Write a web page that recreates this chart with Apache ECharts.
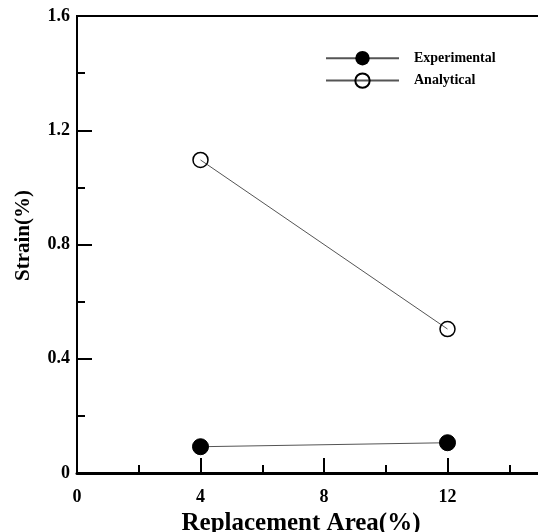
<!DOCTYPE html>
<html>
<head>
<meta charset="utf-8">
<script src="https://cdn.jsdelivr.net/npm/echarts@6/dist/echarts.min.js"></script>
<style>
  html, body { margin: 0; padding: 0; background: #fff; }
  #chart { width: 538px; height: 532px; }
</style>
</head>
<body>
<div id="chart"></div>
<script>
// Strain versus replacement area
const replacementArea = [4, 12];
const experimentalStrain = [0.092, 0.106];
const analyticalStrain = [1.096, 0.504];
const seriesNames = ['Experimental', 'Analytical'];

const font = '"Liberation Serif", "Times New Roman", serif';

const chart = echarts.init(document.getElementById('chart'));

chart.setOption({
  backgroundColor: '#fff',
  animation: false,
  grid: {
    left: 77,
    top: 16,
    width: 494,
    bottom: 59,
    outerBoundsMode: 'none',
    containLabel: false,
    show: true,
    borderColor: '#000',
    borderWidth: 2,
    backgroundColor: 'transparent'
  },
  legend: {
    data: seriesNames,
    orient: 'vertical',
    left: 320,
    top: 46,
    itemWidth: 73,
    itemHeight: 18,
    itemGap: 7,
    textStyle: { fontFamily: font, fontWeight: 'bold', fontSize: 14, color: '#000', padding: [0, 0, 0, 10] }
  },
  xAxis: {
    type: 'value',
    min: 0,
    max: 16,
    interval: 4,
    name: 'Replacement Area(%)',
    nameLocation: 'middle',
    nameGap: 31,
    nameTextStyle: { fontFamily: font, fontWeight: 'bold', fontSize: 25, color: '#000', padding: [0, 46, 0, 0] },
    axisLine: { show: true, lineStyle: { color: '#000', width: 3 } },
    axisTick: { show: true, inside: true, length: 15, lineStyle: { color: '#000', width: 2 } },
    minorTick: { show: true, splitNumber: 2, length: 8, lineStyle: { color: '#000', width: 2 } },
    axisLabel: { fontFamily: font, fontWeight: 'bold', fontSize: 18, color: '#000', margin: 15 },
    splitLine: { show: false }
  },
  yAxis: {
    type: 'value',
    min: 0,
    max: 1.6,
    interval: 0.4,
    name: 'Strain(%)',
    nameLocation: 'middle',
    nameGap: 43,
    nameTextStyle: { fontFamily: font, fontWeight: 'bold', fontSize: 21, color: '#000', padding: [0, 0, 0, 18] },
    axisLine: { show: true, lineStyle: { color: '#000', width: 2 } },
    axisTick: { show: true, inside: true, length: 15, lineStyle: { color: '#000', width: 2 } },
    minorTick: { show: true, splitNumber: 2, length: 8, lineStyle: { color: '#000', width: 2 } },
    axisLabel: {
      fontFamily: font, fontWeight: 'bold', fontSize: 18, color: '#000', margin: 7,
      formatter: v => (v === 0 ? '0' : v.toFixed(1))
    },
    splitLine: { show: false }
  },
  series: [
    {
      name: seriesNames[0],
      type: 'line',
      data: replacementArea.map((x, i) => [x, experimentalStrain[i]]),
      symbol: 'circle',
      symbolSize: 16,
      itemStyle: { color: '#000', borderColor: '#000' },
      lineStyle: { color: '#555', width: 1 }
    },
    {
      name: seriesNames[1],
      type: 'line',
      data: replacementArea.map((x, i) => [x, analyticalStrain[i]]),
      symbol: 'circle',
      symbolSize: 15,
      itemStyle: { color: 'rgba(255,255,255,0)', borderColor: '#000', borderWidth: 1.5 },
      lineStyle: { color: '#555', width: 1 }
    }
  ]
});
</script>
</body>
</html>
